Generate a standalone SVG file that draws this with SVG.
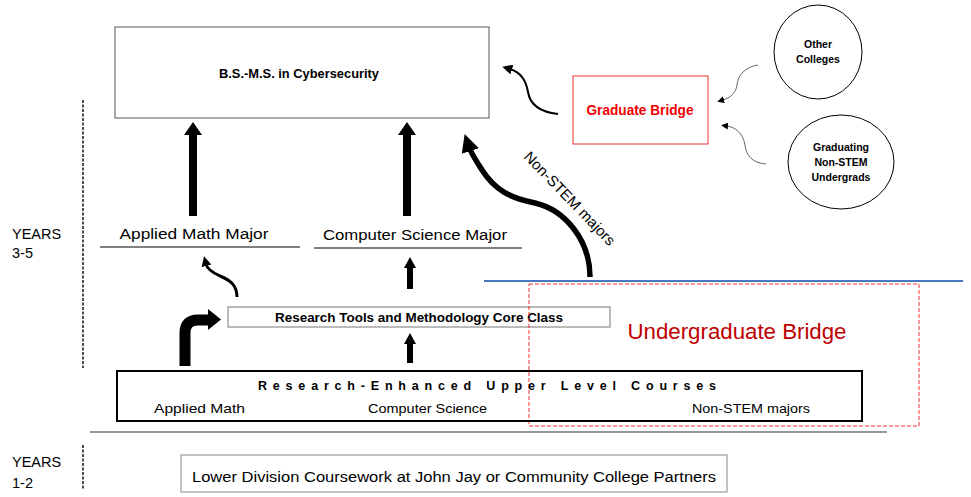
<svg xmlns="http://www.w3.org/2000/svg" width="971" height="497" viewBox="0 0 971 497">
<style>
text{font-family:"Liberation Sans",Arial,sans-serif;fill:#000}
.b{font-weight:bold}
.box{fill:#fff;stroke:#555;stroke-width:1}
.dash{stroke:#111;stroke-width:1.5;stroke-dasharray:3,1.5;fill:none}
.thin{fill:none;stroke:#666;stroke-width:1}
</style>
<defs>
<marker id="mThick" markerUnits="userSpaceOnUse" markerWidth="18" markerHeight="18" refX="4" refY="8.5" orient="auto" viewBox="0 0 17 17"><path d="M0,0 L17,8.5 L0,17 z" fill="#000"/></marker>
<marker id="mMed" markerUnits="userSpaceOnUse" markerWidth="10" markerHeight="10" refX="2" refY="5" orient="auto" viewBox="0 0 10 10"><path d="M0,0 L10,5 L0,10 z" fill="#000"/></marker>
<marker id="mThin" markerUnits="userSpaceOnUse" markerWidth="7" markerHeight="7" refX="1" refY="3.5" orient="auto" viewBox="0 0 7 7"><path d="M0,0 L7,3.5 L0,7 z" fill="#000"/></marker>
</defs>
<rect width="971" height="497" fill="#fff"/>

<g id="years35">
<line x1="83" y1="100" x2="83" y2="368" class="dash"/>
<text x="12" y="239" font-size="14.5">YEARS</text>
<text x="12" y="258" font-size="14.5">3-5</text>
</g>
<g id="years12">
<line x1="83" y1="445" x2="83" y2="490" class="dash"/>
<text x="12" y="467" font-size="14.5">YEARS</text>
<text x="12" y="488" font-size="14.5">1-2</text>
</g>

<g id="bsms">
<rect x="115" y="27" width="374" height="91" class="box"/>
<text x="299" y="78" font-size="13.5" class="b" text-anchor="middle" textLength="160" lengthAdjust="spacingAndGlyphs">B.S.-M.S. in Cybersecurity</text>
</g>

<g id="gradbridge">
<rect x="573" y="76" width="135" height="68" fill="#fff" stroke="#e83030" stroke-width="1"/>
<text x="640" y="115" font-size="14.5" class="b" text-anchor="middle" style="fill:#f00000" textLength="107" lengthAdjust="spacingAndGlyphs">Graduate Bridge</text>
</g>

<g id="othercolleges">
<ellipse cx="818" cy="52" rx="44" ry="47" fill="#fff" stroke="#000"/>
<text x="818" y="48" font-size="10.5" class="b" text-anchor="middle">Other</text>
<text x="818" y="63" font-size="10.5" class="b" text-anchor="middle">Colleges</text>
</g>

<g id="gradnonstem">
<ellipse cx="841" cy="162" rx="53" ry="47" fill="#fff" stroke="#000"/>
<text x="841" y="151" font-size="10.5" class="b" text-anchor="middle">Graduating</text>
<text x="841" y="166" font-size="10.5" class="b" text-anchor="middle">Non-STEM</text>
<text x="841" y="181" font-size="10.5" class="b" text-anchor="middle">Undergrads</text>
</g>

<g id="appliedmath">
<text x="194" y="239" font-size="15.5" text-anchor="middle" textLength="149" lengthAdjust="spacingAndGlyphs">Applied Math Major</text>
<line x1="100" y1="247" x2="300" y2="247" stroke="#000" stroke-width="1"/>
</g>

<g id="csmajor">
<text x="415" y="240" font-size="15.5" text-anchor="middle" textLength="184" lengthAdjust="spacingAndGlyphs">Computer Science Major</text>
<line x1="314" y1="248" x2="522" y2="248" stroke="#000" stroke-width="1"/>
</g>

<g id="researchtools">
<rect x="228" y="307" width="382" height="20" fill="#fff" stroke="#777" stroke-width="1"/>
<text x="419" y="322" font-size="13" class="b" text-anchor="middle" textLength="288" lengthAdjust="spacingAndGlyphs">Research Tools and Methodology Core Class</text>
</g>

<g id="undergradbridge">
<rect x="529" y="284" width="390" height="142" fill="none" stroke="#f03030" stroke-width="1" stroke-dasharray="4,2"/>
<text x="737" y="339" font-size="22" text-anchor="middle" style="fill:#c00000" textLength="219" lengthAdjust="spacingAndGlyphs">Undergraduate Bridge</text>
</g>

<g id="upperlevel">
<rect x="117" y="371" width="745" height="50" fill="none" stroke="#000" stroke-width="2"/>
<text x="258" y="390" font-size="12.5" class="b" textLength="458" lengthAdjust="spacing">Research-Enhanced Upper Level Courses</text>
<text x="154" y="413" font-size="13" textLength="91" lengthAdjust="spacingAndGlyphs">Applied Math</text>
<text x="368" y="413" font-size="13" textLength="119" lengthAdjust="spacingAndGlyphs">Computer Science</text>
<text x="692" y="413" font-size="13" textLength="118" lengthAdjust="spacingAndGlyphs">Non-STEM majors</text>
</g>

<g id="dividers">
<line x1="484" y1="281" x2="963" y2="281" stroke="#4a78c0" stroke-width="2"/>
<line x1="90" y1="432" x2="887" y2="432" stroke="#333" stroke-width="1"/>
</g>

<g id="lowerdivision">
<rect x="181" y="455" width="546" height="37" fill="#fff" stroke="#888" stroke-width="1"/>
<text x="454" y="482" font-size="15.5" text-anchor="middle" textLength="524" lengthAdjust="spacingAndGlyphs">Lower Division Coursework at John Jay or Community College Partners</text>
</g>

<g id="connectors">
<rect x="189" y="133" width="8" height="83" fill="#000"/>
<polygon points="184,135 202,135 193,122" fill="#000"/>
<rect x="403" y="133" width="8" height="83" fill="#000"/>
<polygon points="398,135 416,135 407,122" fill="#000"/>
<rect x="407" y="266" width="6" height="23" fill="#000"/>
<polygon points="404,268 416,268 410,257" fill="#000"/>
<rect x="407" y="342" width="6" height="21" fill="#000"/>
<polygon points="404,344 416,344 410,333" fill="#000"/>
<path d="M185,366 V333 Q185,320 198,320 H210" fill="none" stroke="#000" stroke-width="11"/>
<polygon points="208,309 221,319.5 208,330" fill="#000"/>
<path d="M237,297 C237,285 230,280 220,276 C211,272 207,268 206,264" fill="none" stroke="#000" stroke-width="3" marker-end="url(#mMed)"/>
<path d="M590,277 C590,240 565,210 535,203 C510,198 495,190 482,170 C475,159 471,153 469,147" fill="none" stroke="#000" stroke-width="5.5" marker-end="url(#mThick)"/>
<path d="M558,114 C540,112 530,105 528,92 C526,80 520,72 510,69" fill="none" stroke="#000" stroke-width="2" marker-end="url(#mMed)"/>
<path d="M758,65 C745,67 738,75 737,85 C736,93 730,98 723,100" class="thin" marker-end="url(#mThin)"/>
<path d="M766,164 C752,163 746,155 745,145 C743,133 735,127 727,126" class="thin" marker-end="url(#mThin)"/>
<text x="0" y="0" font-size="15" transform="translate(566,202) rotate(46)" text-anchor="middle" textLength="124" lengthAdjust="spacingAndGlyphs">Non-STEM majors</text>
</g>
</svg>
